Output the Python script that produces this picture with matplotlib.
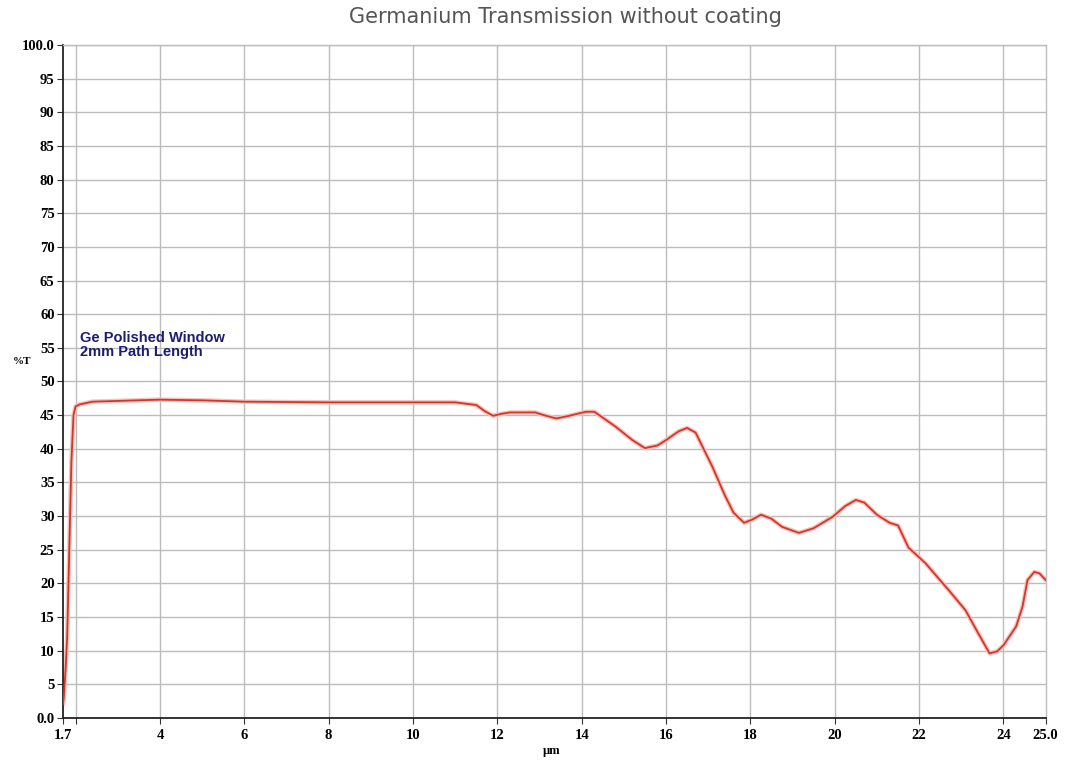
import numpy as np
import matplotlib.pyplot as plt

# Transmission curve (wavelength in um, %T)
wavelength = [1.70, 1.72, 1.76, 1.80, 1.85, 1.90, 1.95, 2.00, 2.1, 2.4, 3.2, 4.0, 5.0, 6.0,
              7.0, 8.0, 9.0, 10.0, 11.0, 11.5, 11.7, 11.9, 12.1, 12.3, 12.9, 13.1, 13.4,
              13.7, 14.1, 14.3, 14.8, 15.2, 15.5, 15.8, 16.0, 16.3, 16.5, 16.7, 17.1,
              17.4, 17.6, 17.85, 18.05, 18.25, 18.5, 18.75, 19.15, 19.5, 19.95, 20.25,
              20.5, 20.7, 21.0, 21.3, 21.5, 21.75, 22.15, 22.7, 23.1, 23.4, 23.67, 23.85,
              24.0, 24.3, 24.45, 24.57, 24.73, 24.85, 25.0]
transmission = [2.0, 3.0, 7.0, 12.0, 25.0, 38.0, 45.0, 46.3, 46.6, 47.0, 47.15, 47.3, 47.2,
                47.0, 46.95, 46.9, 46.9, 46.9, 46.9, 46.5, 45.6, 44.9, 45.2, 45.4, 45.4,
                45.0, 44.5, 44.9, 45.5, 45.5, 43.3, 41.3, 40.1, 40.5, 41.3, 42.6, 43.1,
                42.4, 37.3, 33.0, 30.5, 29.0, 29.5, 30.2, 29.6, 28.4, 27.5, 28.2, 29.9,
                31.5, 32.4, 32.0, 30.2, 29.0, 28.6, 25.3, 23.0, 19.0, 16.0, 12.6, 9.6, 9.9,
                10.8, 13.6, 16.5, 20.5, 21.7, 21.5, 20.5]

x_ticks = [1.7, 4, 6, 8, 10, 12, 14, 16, 18, 20, 22, 24, 25.0]
x_tick_labels = ['1.7', '4', '6', '8', '10', '12', '14', '16', '18', '20', '22', '24', '25.0']
x_grid = [2, 4, 6, 8, 10, 12, 14, 16, 18, 20, 22, 24]
y_ticks = list(range(0, 101, 5))
y_tick_labels = ['0.0'] + [str(v) for v in y_ticks[1:-1]] + ['100.0']

fig = plt.figure(figsize=(10.67, 7.6), dpi=100)
ax = fig.add_axes([0.059, 0.0553, 0.921, 0.8855])

grid_color = '#bcbcbc'
for gx in x_grid:
    ax.axvline(gx, color=grid_color, lw=1.0, zorder=0)
for gy in y_ticks[1:]:
    ax.axhline(gy, color=grid_color, lw=1.0, zorder=0)

# faint pink halo under the red trace, like the scanned original
ax.plot(wavelength, transmission, color='#f7c2bb', lw=3.2, solid_capstyle='round',
        solid_joinstyle='round', zorder=2)
ax.plot(wavelength, transmission, color='#d0382d', lw=1.3, solid_joinstyle='round', zorder=3)

ax.set_xlim(1.7, 25.0)
ax.set_ylim(0, 100)
ax.set_xticks(x_ticks)
ax.set_xticklabels(x_tick_labels)
ax.set_xticks([2], minor=True)
ax.set_yticks(y_ticks)
ax.set_yticklabels(y_tick_labels)

for lab in ax.get_xticklabels() + ax.get_yticklabels():
    lab.set_fontfamily('Liberation Serif')
    lab.set_fontweight('bold')
    lab.set_fontsize(10.5)
ax.tick_params(axis='both', which='both', direction='out', length=4, width=0.8,
               color='#333333', pad=2)
ax.tick_params(axis='x', pad=4)

for side in ['left', 'bottom']:
    ax.spines[side].set_color('#222222')
    ax.spines[side].set_linewidth(1.3)
for side in ['right', 'top']:
    ax.spines[side].set_color(grid_color)
    ax.spines[side].set_linewidth(1.0)

ax.text(2.1, 55.4, 'Ge Polished Window\n2mm Path Length', color='#1c1c70',
        fontsize=10.5, fontweight='bold', family='Liberation Sans', linespacing=0.95,
        va='center', ha='left')

fig.text(0.012, 0.524, '%T', fontsize=8, fontweight='bold', family='Liberation Serif',
         va='center', ha='left')
fig.text(0.517, 0.012, 'µm', fontsize=9, fontweight='bold', family='Liberation Serif',
         va='center', ha='center')
fig.text(0.53, 0.978, 'Germanium Transmission without coating', color='#555555',
         fontsize=15, family='DejaVu Sans', va='center', ha='center')

fig.savefig('out.png', dpi=100, facecolor='white')
